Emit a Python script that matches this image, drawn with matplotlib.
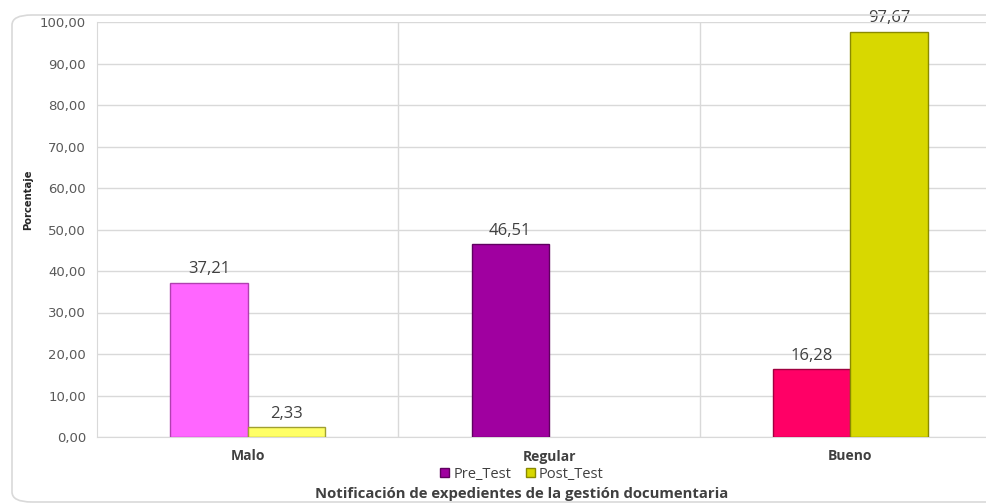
import numpy as np
import matplotlib.pyplot as plt
from matplotlib.patches import FancyBboxPatch

categorias = ["Malo", "Regular", "Bueno"]
pre_test = [37.21, 46.51, 16.28]
post_test = [2.33, 0.0, 97.67]

# each category has its own shade in the source workbook
pre_colores = ["#FF66FF", "#A000A0", "#FF0066"]
post_colores = ["#FFFF66", "#D8D800", "#D8D800"]
pre_bordes = ["#B040B0", "#600060", "#A00040"]
post_bordes = ["#A0A030", "#8A8A00", "#8A8A00"]

def fmt(v):
    return ("%.2f" % v).replace(".", ",")

fig = plt.figure(figsize=(9.86, 5.04), dpi=100)
fig.patch.set_facecolor("white")

# rounded frame around the chart
marco = FancyBboxPatch((12 / 986, 2 / 504), 1.2, 487 / 504,
                       boxstyle="round,pad=0,rounding_size=0.02",
                       transform=fig.transFigure, facecolor="none",
                       edgecolor="#D9D9D9", linewidth=1.2, zorder=0)
fig.patches.append(marco)

ax = fig.add_axes([97 / 986, 67 / 504, 904 / 986, 415 / 504])
x = np.arange(len(categorias))
ancho = 0.257

b1 = ax.bar(x - ancho / 2, pre_test, ancho, color=pre_colores,
            edgecolor=pre_bordes, linewidth=1, zorder=3)
b2 = ax.bar(x + ancho / 2, post_test, ancho, color=post_colores,
            edgecolor=post_bordes, linewidth=1, zorder=3)

for barras, vals in ((b1, pre_test), (b2, post_test)):
    for b, v in zip(barras, vals):
        if v == 0:
            b.set_visible(False)
            continue
        ax.text(b.get_x() + b.get_width() / 2, v + 1.3, fmt(v),
                ha="center", va="bottom", fontsize=12, color="#404040",
                family="Open Sans", zorder=4)

ax.set_xlim(-0.5, 2.5)
ax.set_ylim(0, 100)
ax.set_yticks(np.arange(0, 101, 10))
ax.set_yticklabels([fmt(v) for v in np.arange(0, 101, 10)],
                   fontsize=9.5, color="#595959", family="DejaVu Sans")
ax.set_xticks(x)
ax.set_xticklabels(categorias, fontsize=10, fontweight="bold",
                   color="#404040", family="Open Sans")
ax.tick_params(axis="both", length=0, pad=8)
ax.tick_params(axis="x", pad=9)

ax.set_xticks([0.5, 1.5], minor=True)
ax.tick_params(axis="x", which="minor", length=0)
ax.grid(axis="y", color="#D9D9D9", linewidth=1, zorder=0)
ax.grid(axis="x", which="minor", color="#D9D9D9", linewidth=1, zorder=0)
for s in ["top", "right"]:
    ax.spines[s].set_visible(False)
ax.spines["left"].set_color("#D9D9D9")
ax.spines["bottom"].set_color("#D9D9D9")

fig.text(28 / 986, 1 - 200 / 504, "Porcentaje", rotation=90, ha="center",
         va="center", fontsize=8, fontweight="bold", color="#262626",
         family="DejaVu Sans", stretch="condensed")

# legend handles use the base colour of each series
h1 = plt.Rectangle((0, 0), 1, 1, facecolor="#A000A0", edgecolor="#600060")
h2 = plt.Rectangle((0, 0), 1, 1, facecolor="#D8D800", edgecolor="#8A8A00")
fig.legend([h1, h2], ["Pre_Test", "Post_Test"], loc="center",
           bbox_to_anchor=(522 / 986, 1 - 474 / 504), ncol=2, frameon=False,
           prop={"family": "Open Sans", "size": 10.5}, handlelength=0.6,
           handleheight=0.6, columnspacing=1.0, handletextpad=0.3,
           labelcolor="#404040")

fig.text(522 / 986, 1 - 494 / 504,
         "Notificación de expedientes de la gestión documentaria",
         ha="center", va="center", fontsize=10.7, fontweight="bold",
         color="#404040", family="Open Sans")

fig.savefig("out.png", dpi=100)
